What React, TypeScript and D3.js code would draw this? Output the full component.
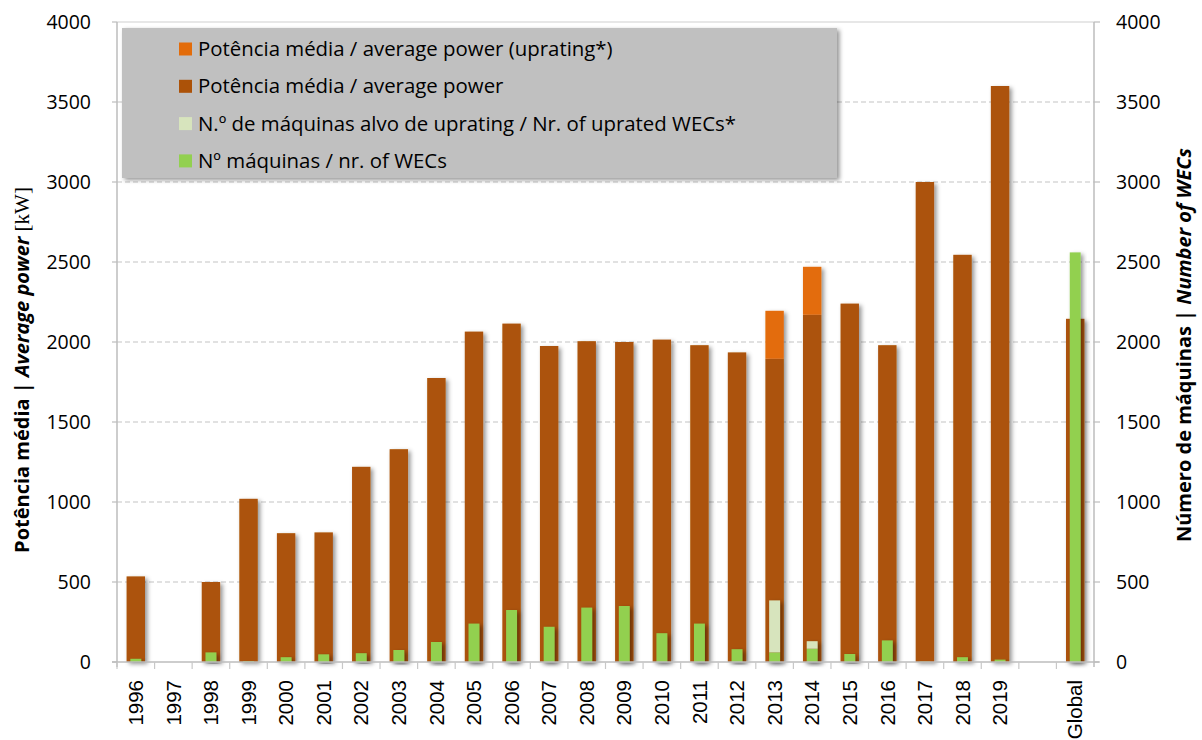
import React from "react";
import * as d3 from "d3";

// values
const categories = [
  "1996", "1997", "1998", "1999", "2000", "2001", "2002", "2003", "2004", "2005",
  "2006", "2007", "2008", "2009", "2010", "2011", "2012", "2013", "2014", "2015",
  "2016", "2017", "2018", "2019", " ", "Global",
];
const avgPower = [
  535, 0, 500, 1020, 805, 810, 1220, 1330, 1775, 2065,
  2115, 1975, 2005, 2000, 2015, 1980, 1935, 1895, 2170, 2240,
  1980, 3000, 2545, 3600, 0, 2145,
];
const avgPowerUprating = [
  0, 0, 0, 0, 0, 0, 0, 0, 0, 0,
  0, 0, 0, 0, 0, 0, 0, 300, 300, 0,
  0, 0, 0, 0, 0, 0,
];
const nrWecs = [
  20, 0, 60, 5, 30, 48, 55, 75, 125, 240,
  325, 220, 340, 350, 180, 240, 80, 60, 83, 50,
  135, 2, 30, 15, 0, 2560,
];
const nrUprated = [
  0, 0, 0, 0, 0, 0, 0, 0, 0, 0,
  0, 0, 0, 0, 0, 0, 0, 325, 47, 0,
  0, 0, 0, 0, 0, 0,
];
const yTicks = [0, 500, 1000, 1500, 2000, 2500, 3000, 3500, 4000];
const legendItems = [
  { label: "Potência média / average power (uprating*)", color: "#E36C0A" },
  { label: "Potência média / average power", color: "#AC5208" },
  { label: "N.º de máquinas alvo de uprating / Nr. of uprated WECs*", color: "#D7E4BD" },
  { label: "Nº máquinas / nr. of WECs", color: "#92D050" },
];

const width = 1202;
const height = 740;
const left = 117;
const right = 1094;
const top = 22;
const bottom = 662;

const BROWN = "#AC5208";
const ORANGE = "#E36C0A";
const GREEN = "#92D050";
const LIGHTGREEN = "#D7E4BD";
const font = "'Open Sans', sans-serif";

export default function App() {
  const x = d3.scaleBand().domain(categories).range([left, right]);
  const y = d3.scaleLinear().domain([0, 4000]).range([bottom, top]);
  const bw = x.bandwidth();
  const brownW = bw * 0.49;
  const greenW = bw * 0.29;

  return (
    <div style={{ position: "absolute", left: 0, top: 0 }}>
      <svg width={width} height={height} style={{ display: "block", background: "#fff" }}>
        <defs>
          <filter id="shadow" x="-30%" y="-10%" width="180%" height="130%">
            <feDropShadow dx="2.5" dy="2" stdDeviation="2" floodColor="#000" floodOpacity="0.42" />
          </filter>
        </defs>

        {/* gridlines */}
        {yTicks.slice(1, -1).map((t) => (
          <line key={t} x1={left} x2={right} y1={y(t)} y2={y(t)}
            stroke="#c4c4c4" strokeWidth={1.2} strokeDasharray="5,3" />
        ))}
        <line x1={left} x2={right} y1={y(4000)} y2={y(4000)} stroke="#d0d0d0" strokeWidth={1.2} />

        {/* power bars */}
        {categories.map((c, i) =>
          avgPower[i] > 0 ? (
            <g key={"p" + c} filter="url(#shadow)">
              <rect x={x(c)! + (bw - brownW) / 2} width={brownW}
                y={y(avgPower[i])} height={y(0) - y(avgPower[i])} fill={BROWN} />
              {avgPowerUprating[i] > 0 && (
                <rect x={x(c)! + (bw - brownW) / 2} width={brownW}
                  y={y(avgPower[i] + avgPowerUprating[i])}
                  height={y(avgPower[i]) - y(avgPower[i] + avgPowerUprating[i])} fill={ORANGE} />
              )}
            </g>
          ) : null
        )}

        {/* machine bars */}
        {categories.map((c, i) =>
          nrWecs[i] > 0 ? (
            <g key={"w" + c} filter="url(#shadow)">
              <rect x={x(c)! + (bw - greenW) / 2} width={greenW}
                y={y(nrWecs[i])} height={y(0) - y(nrWecs[i])} fill={GREEN} />
              {nrUprated[i] > 0 && (
                <rect x={x(c)! + (bw - greenW) / 2} width={greenW}
                  y={y(nrWecs[i] + nrUprated[i])}
                  height={y(nrWecs[i]) - y(nrWecs[i] + nrUprated[i])} fill={LIGHTGREEN} />
              )}
            </g>
          ) : null
        )}

        {/* axes */}
        <line x1={left} x2={left} y1={top} y2={bottom + 5} stroke="#bdbdbd" strokeWidth={1.5} />
        <line x1={right} x2={right} y1={top} y2={bottom + 5} stroke="#bdbdbd" strokeWidth={1.5} />
        <line x1={left - 5} x2={right + 5} y1={bottom} y2={bottom} stroke="#bdbdbd" strokeWidth={1.5} />
        {categories.map((c) => (
          <line key={"t" + c} x1={x(c)!} x2={x(c)!} y1={bottom} y2={bottom + 7}
            stroke="#c8c8c8" strokeWidth={1.2} />
        ))}
        {yTicks.map((t) => (
          <g key={"yt" + t}>
            <line x1={left - 5} x2={left} y1={y(t)} y2={y(t)} stroke="#bdbdbd" strokeWidth={1.2} />
            <line x1={right} x2={right + 6} y1={y(t)} y2={y(t)} stroke="#bdbdbd" strokeWidth={1.2} />
            <text x={91} y={y(t)} dy="0.35em" textAnchor="end" fontFamily={font} fontSize={19.5} fill="#000">{t}</text>
            <text x={1116} y={y(t)} dy="0.35em" textAnchor="start" fontFamily={font} fontSize={19.5} fill="#000">{t}</text>
          </g>
        ))}

        {/* x labels */}
        {categories.map((c) => (
          <text key={"xl" + c}
            transform={`translate(${x(c)! + bw / 2},${680}) rotate(-90)`}
            dy="0.35em" textAnchor="end" fontFamily="'Liberation Sans', Arial, sans-serif" fontSize={20.5} fill="#000">
            {c.trim()}
          </text>
        ))}

        {/* axis titles */}
        <text transform={`translate(22,370) rotate(-90)`} textAnchor="middle" dy="0.35em"
          fontFamily={font} fontSize={20} fill="#000">
          <tspan fontWeight="bold">Potência média | </tspan>
          <tspan fontWeight="bold" fontStyle="italic">Average power</tspan>
          <tspan fontFamily="'Liberation Serif', serif" fontSize={21}> [kW]</tspan>
        </text>
        <text transform={`translate(1184,345) rotate(-90)`} textAnchor="middle" dy="0.35em"
          fontFamily={font} fontSize={20} fill="#000">
          <tspan fontWeight="bold">Número de máquinas | </tspan>
          <tspan fontWeight="bold" fontStyle="italic">Number of WECs</tspan>
        </text>

        {/* legend */}
        <rect x={122} y={28} width={715} height={150} fill="#C0C0C0" filter="url(#shadow)" />
        {legendItems.map((d, i) => (
          <g key={d.label} transform={`translate(179,${49 + i * 37.3})`}>
            <rect x={0} y={-6.5} width={13} height={13} fill={d.color} />
            <text x={19} y={0} dy="0.35em" fontFamily={font} fontSize={20.4} fill="#000">{d.label}</text>
          </g>
        ))}
      </svg>
    </div>
  );
}
